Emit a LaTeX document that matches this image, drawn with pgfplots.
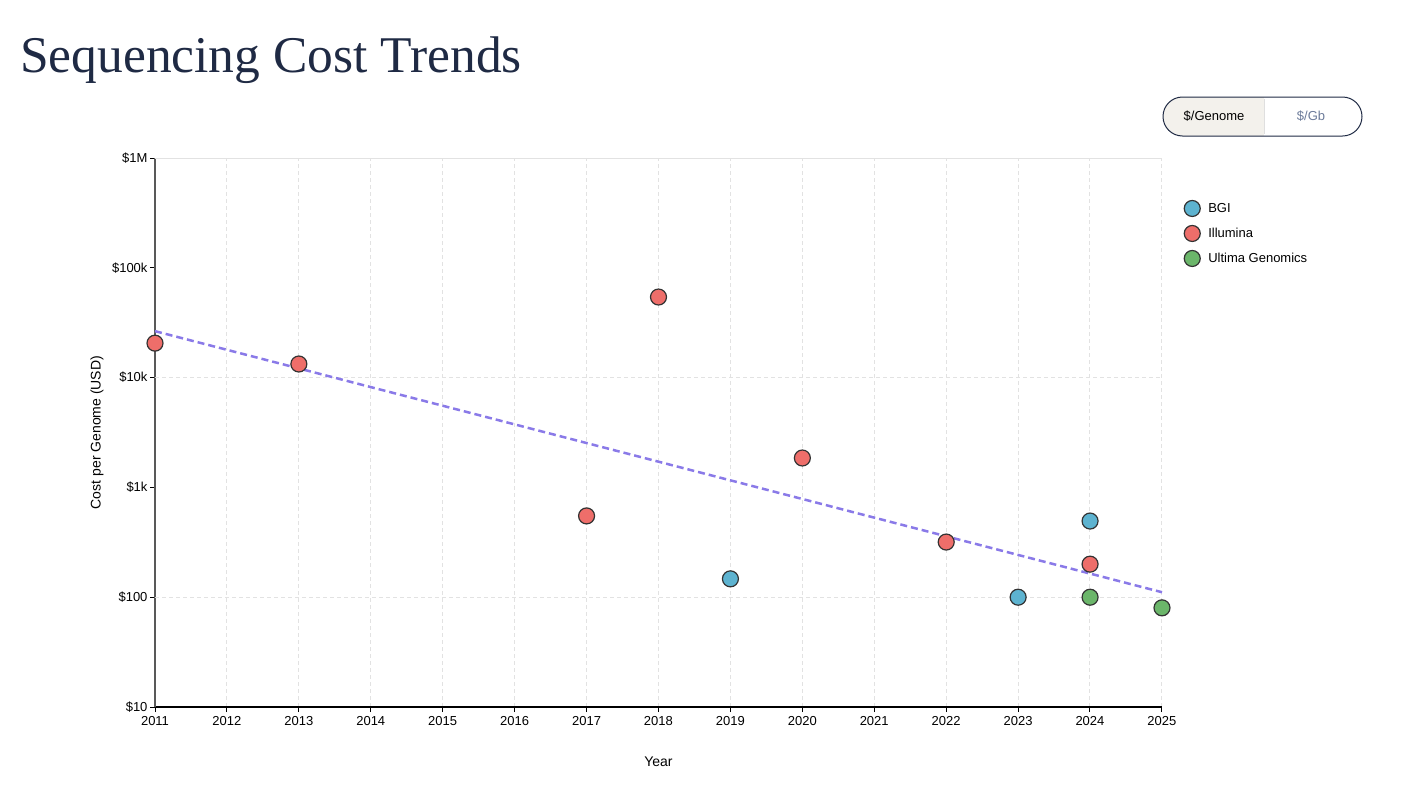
\documentclass[border=0pt]{standalone}
\usepackage{pgfplots}
\pgfplotsset{compat=1.18}
\usepackage{fontspec}
\setmainfont{Liberation Sans}
\newfontfamily\titlefont{Liberation Serif}
\definecolor{bgi}{HTML}{5DB3D0}
\definecolor{illu}{HTML}{EE6E6A}
\definecolor{ult}{HTML}{6BB66A}
\definecolor{trend}{HTML}{8A7AE8}
\definecolor{edge}{HTML}{333333}
\definecolor{navy}{HTML}{1F2A44}
\definecolor{gridc}{HTML}{E2E2E2}
\definecolor{beige}{HTML}{F3F1EC}
\definecolor{gbtext}{HTML}{6B7A99}
\begin{document}
\begin{tikzpicture}[x=1pt,y=1pt]
\useasboundingbox (0,0) rectangle (1411,-793);
\node[anchor=base west, font=\titlefont\fontsize{51.5}{60}\selectfont, text=navy, inner sep=0] at (20,-72) {Sequencing Cost Trends};
% toggle
\begin{scope}
\clip[rounded corners=19.5] (1163,-97) rectangle (1362,-136);
\fill[beige] (1163,-97) rectangle (1264,-136);
\end{scope}
\draw[navy, line width=1, rounded corners=19.5] (1163,-97) rectangle (1362,-136);
\draw[gray!25] (1264,-99) -- (1264,-134);
\node[font=\fontsize{13}{15}\selectfont] at (1214,-116) {\$/Genome};
\node[font=\fontsize{13}{15}\selectfont, text=gbtext] at (1311,-116) {\$/Gb};
\begin{axis}[
  at={(155pt,-707pt)}, anchor=south west,
  scale only axis, width=1007pt, height=549pt,
  clip=false,
  xmin=2011, xmax=2025, ymode=log, ymin=10, ymax=1000000,
  xtick={2011,2012,...,2025},
  /pgf/number format/1000 sep={},
  /pgf/number format/assume math mode=true,
  ytick={10,100,1000,10000,100000,1000000},
  yticklabels={\$10,\$100,\$1k,\$10k,\$100k,\$1M},
  yminorticks=false,
  log basis y=10,
  xmajorgrids,
  major x grid style={gridc, dash pattern=on 4pt off 3pt, line width=1pt},
  extra y ticks={100,10000},
  extra y tick labels={},
  extra y tick style={grid=major, major grid style={gridc, dash pattern=on 4pt off 3pt, line width=1pt}, major tick length=0pt},
  axis x line*=bottom, axis y line*=left,
  axis line style={-},
  x axis line style={black, line width=1.5pt},
  y axis line style={black!65, line width=2pt},
  tick align=outside, major tick length=5pt,
  tick style={black, line width=1pt},
  ticklabel style={font=\fontsize{13}{15}\selectfont},
  xticklabel style={yshift=-1pt},
  yticklabel style={xshift=1pt},
  xlabel={Year}, ylabel={Cost per Genome (USD)},
  label style={font=\fontsize{14}{16}\selectfont},
  xlabel style={at={(axis description cs:0.5,-0.1)}, anchor=center},
  ylabel style={at={(axis description cs:-0.0576,0.5)}, anchor=center, rotate=0},
  legend style={at={(rel axis cs:1.0219,0.923)}, anchor=north west, draw=none, fill=none,
    font=\fontsize{13}{15}\selectfont, row sep=9pt, inner sep=0pt,
    nodes={inner sep=1pt},
    /tikz/every odd column/.append style={column sep=7pt}},
  legend cell align=left,
  legend image code/.code={\draw[#1] plot coordinates {(0pt,0pt)};},
]
\draw[gridc, line width=1pt] (rel axis cs:0,1) -- (rel axis cs:1,1);
\addplot[trend, line width=2.5pt, dash pattern=on 7pt off 4pt, forget plot] coordinates {(2011,26500) (2025,111)};
\addplot[only marks, mark=*, mark size=8pt, mark options={fill=bgi, draw=edge, line width=1.2pt}] coordinates {(2019,147) (2023,100) (2024,494)};
\addlegendentry{BGI}
\addplot[only marks, mark=*, mark size=8pt, mark options={fill=illu, draw=edge, line width=1.2pt}] coordinates {(2011,20600) (2013,13300) (2017,550) (2018,54200) (2020,1853) (2022,318) (2024,200)};
\addlegendentry{Illumina}
\addplot[only marks, mark=*, mark size=8pt, mark options={fill=ult, draw=edge, line width=1.2pt}] coordinates {(2024,100) (2025,80)};
\addlegendentry{Ultima Genomics}
\end{axis}
\end{tikzpicture}
\end{document}
